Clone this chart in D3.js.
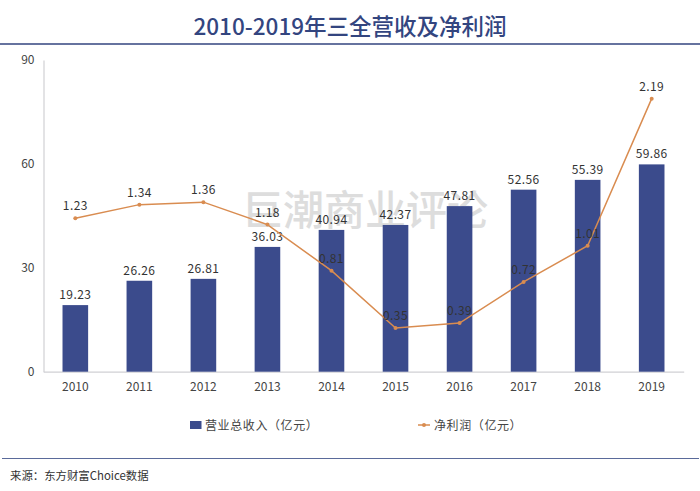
<!DOCTYPE html>
<html>
<head>
<meta charset="utf-8">
<script src="https://cdn.jsdelivr.net/npm/d3@7/dist/d3.min.js"></script>
<style>
  html, body { margin: 0; padding: 0; background: #fff; }
  text { font-family: "Noto Sans CJK SC", "Noto Sans", sans-serif; }
</style>
</head>
<body>
<svg id="chart" width="700" height="491"></svg>
<script>
var years = ["2010","2011","2012","2013","2014","2015","2016","2017","2018","2019"];
var revenue = [19.23,26.26,26.81,36.03,40.94,42.37,47.81,52.56,55.39,59.86];
var profit = [1.23,1.34,1.36,1.18,0.81,0.35,0.39,0.72,1.01,2.19];
var revenueTicks = [0,30,60,90];
var title = "2010-2019年三全营收及净利润";
var watermark = "巨潮商业评论";
var legendNames = ["营业总收入（亿元）","净利润（亿元）"];
var source = "来源：东方财富Choice数据";

var navy = "#3b4b8c", orange = "#d98c50", axisGrey = "#d0d0d4", textGrey = "#444";

var svg = d3.select("#chart");

var x = d3.scaleBand().domain(years).range([43.3, 683.7]).paddingInner(0.6).paddingOuter(0.3);
var y = d3.scaleLinear().domain([0, 90]).range([371.7, 60]);
var y2 = d3.scaleLinear().domain([0, 2.5]).range([371.7, 60]); // hidden right axis

// title and rules
svg.append("text").attr("x", 350).attr("y", 34.5)
  .attr("text-anchor", "middle")
  .attr("font-size", 22.5).attr("font-weight", 500)
  .attr("fill", "#33457f")
  .text(title);
svg.append("line").attr("x1", 0).attr("x2", 700).attr("y1", 44).attr("y2", 44)
  .attr("stroke", "#33457f").attr("stroke-width", 1.5);
svg.append("line").attr("x1", 2).attr("x2", 699).attr("y1", 458.5).attr("y2", 458.5)
  .attr("stroke", "#5a6a9a").attr("stroke-width", 1.2);

// axes
var yAxis = d3.axisLeft(y).tickValues(revenueTicks).tickSize(0).tickPadding(9);
var gy = svg.append("g").attr("transform", "translate(43.5,0)").call(yAxis);
gy.select(".domain").attr("stroke", axisGrey).attr("stroke-width", 1.2);
gy.selectAll("text").attr("font-size", 12).attr("fill", textGrey);

var xAxis = d3.axisBottom(x).tickSize(0).tickPadding(11);
var gx = svg.append("g").attr("transform", "translate(0,371.7)").call(xAxis);
gx.select(".domain").attr("stroke", axisGrey).attr("stroke-width", 1.2);
gx.selectAll("text").attr("font-size", 12).attr("fill", textGrey);

// watermark
svg.append("text").attr("x", 365).attr("y", 225)
  .attr("text-anchor", "middle")
  .attr("font-size", 41).attr("font-weight", 500)
  .attr("fill", "#bdbdbd").attr("opacity", 0.5)
  .text(watermark);

// bars
svg.selectAll("rect.bar").data(revenue).enter().append("rect")
  .attr("class", "bar")
  .attr("x", function(d, i) { return x(years[i]); })
  .attr("y", function(d) { return y(d); })
  .attr("width", x.bandwidth())
  .attr("height", function(d) { return y(0) - y(d); })
  .attr("fill", navy);

// bar labels
svg.selectAll("text.barLabel").data(revenue).enter().append("text")
  .attr("class", "barLabel")
  .attr("x", function(d, i) { return x(years[i]) + x.bandwidth() / 2; })
  .attr("y", function(d) { return y(d) - 6; })
  .attr("text-anchor", "middle")
  .attr("font-size", 12).attr("letter-spacing", 0.4)
  .attr("fill", "#333")
  .text(function(d) { return d.toFixed(2); });

// profit line
var line = d3.line()
  .x(function(d, i) { return x(years[i]) + x.bandwidth() / 2; })
  .y(function(d) { return y2(d); });
svg.append("path").datum(profit)
  .attr("d", line)
  .attr("fill", "none")
  .attr("stroke", orange).attr("stroke-width", 1.5);
svg.selectAll("circle.pt").data(profit).enter().append("circle")
  .attr("class", "pt")
  .attr("cx", function(d, i) { return x(years[i]) + x.bandwidth() / 2; })
  .attr("cy", function(d) { return y2(d); })
  .attr("r", 2)
  .attr("fill", orange);

// profit labels
svg.selectAll("text.lineLabel").data(profit).enter().append("text")
  .attr("class", "lineLabel")
  .attr("x", function(d, i) { return x(years[i]) + x.bandwidth() / 2; })
  .attr("y", function(d) { return y2(d) - 8; })
  .attr("text-anchor", "middle")
  .attr("font-size", 12).attr("letter-spacing", 0.4)
  .attr("fill", "#333")
  .text(function(d) { return d.toFixed(2); });

// legend
svg.append("rect").attr("x", 190).attr("y", 421).attr("width", 11.5).attr("height", 8)
  .attr("fill", navy);
svg.append("text").attr("x", 205).attr("y", 429.5)
  .attr("font-size", 12).attr("letter-spacing", 0.6).attr("fill", textGrey)
  .text(legendNames[0]);
svg.append("line").attr("x1", 418).attr("x2", 430).attr("y1", 425).attr("y2", 425)
  .attr("stroke", orange).attr("stroke-width", 1.5);
svg.append("circle").attr("cx", 424).attr("cy", 425).attr("r", 2).attr("fill", orange);
svg.append("text").attr("x", 434).attr("y", 429.5)
  .attr("font-size", 12).attr("letter-spacing", 0.6).attr("fill", textGrey)
  .text(legendNames[1]);

// source
svg.append("text").attr("x", 10).attr("y", 479.5)
  .attr("font-size", 11.4).attr("fill", "#333")
  .text(source);
</script>
</body>
</html>
